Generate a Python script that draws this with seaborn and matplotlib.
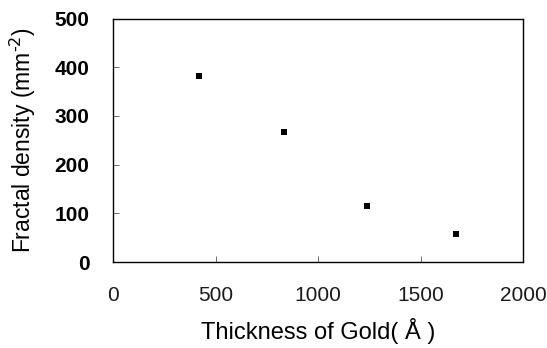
import matplotlib
matplotlib.use('Agg')
import matplotlib.pyplot as plt
import pandas as pd
import seaborn as sns

# values
thickness = [421, 833, 1237, 1675]
density = [382, 267, 115, 58]
xticks = [0, 500, 1000, 1500, 2000]
yticks = [0, 100, 200, 300, 400, 500]

df = pd.DataFrame({'thickness': thickness, 'density': density})

sns.set_theme(style='ticks')
plt.rcParams['font.family'] = ['Liberation Sans', 'DejaVu Sans']
plt.rcParams['text.color'] = 'black'
plt.rcParams['axes.labelcolor'] = 'black'

fig = plt.figure(figsize=(5.47, 3.48), dpi=100)
ax = fig.add_axes([113 / 547, 1 - 262 / 348, 410 / 547, 243.5 / 348])

sns.scatterplot(
    data=df,
    x='thickness',
    y='density',
    marker='s',
    s=22,
    color='black',
    edgecolor='black',
    linewidth=0,
    ax=ax,
)

ax.set_xlim(0, 2000)
ax.set_ylim(0, 500)
ax.set_xticks(xticks)
ax.set_yticks(yticks)

for side in ['top', 'right', 'left', 'bottom']:
    ax.spines[side].set_visible(True)
    ax.spines[side].set_color('black')
    ax.spines[side].set_linewidth(1.0)

ax.tick_params(axis='x', direction='in', length=4, width=0.6, pad=17,
               labelsize=15, labelcolor='#1a1a1a', color='#555555')
ax.tick_params(axis='y', direction='in', length=4, width=0.6, pad=17,
               labelsize=15, labelcolor='black', color='#555555')
for lbl in ax.get_yticklabels():
    lbl.set_fontweight('bold')

ax.set_xlabel('Thickness of Gold( Å )', fontsize=17, labelpad=10)
ax.set_ylabel('Fractal density (mm$^{\\text{-}2}$)', fontsize=16.5, labelpad=12)

fig.savefig('out.png', dpi=100)
